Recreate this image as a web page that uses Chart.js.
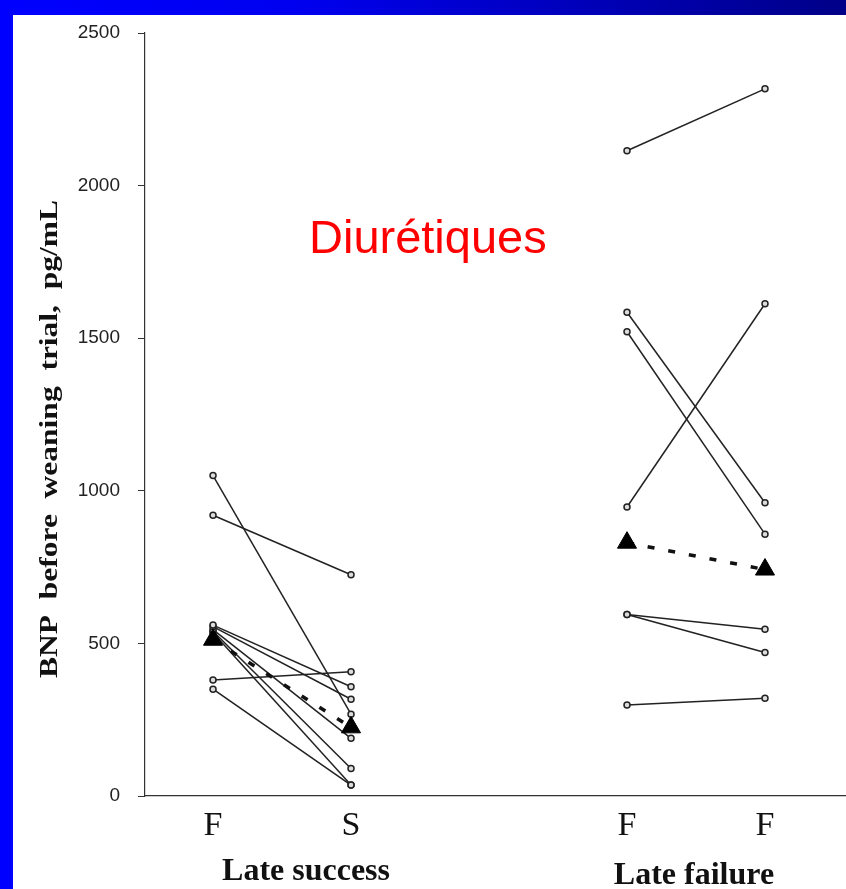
<!DOCTYPE html>
<html>
<head>
<meta charset="utf-8">
<script src="https://cdn.jsdelivr.net/npm/chart.js@4/dist/chart.umd.min.js"></script>
<style>
html,body{margin:0;padding:0;overflow:hidden;background:#0000ff;}
#wrap{position:relative;width:846px;height:889px;}
</style>
</head>
<body>
<div id="wrap"><canvas id="c" width="846" height="889"></canvas></div>
<script>
// ---- data ----
const groupLabels = ['Late success', 'Late failure'];
const timeLabels = ['F', 'S', 'F', 'F'];
const timePositions = [1, 2, 4, 5];
const yTicks = [0, 500, 1000, 1500, 2000, 2500];

const successBefore = [1050, 920, 380, 350, 560, 555, 545, 540, 535];
const successAfter  = [268, 725, 407, 36, 358, 317, 189, 90, 36];
const failureBefore = [2114, 1585, 1521, 947, 595, 595, 298];
const failureAfter  = [2317, 961, 858, 1613, 546, 470, 320];
const successMean = [512, 225];
const failureMean = [830, 742];

const yTitle = 'BNP  before  weaning  trial,  pg/mL';
const annotation = 'Diurétiques';

// ---- datasets ----
const datasets = [];
function meanSet(vals, x0, x1) {
  return {
    data: [{x: x0, y: vals[0]}, {x: x1, y: vals[1]}],
    borderColor: '#111', borderWidth: 3.5, borderDash: [7, 14],
    pointStyle: 'triangle', pointRadius: 11, pointBackgroundColor: '#000',
    pointBorderColor: '#000', pointBorderWidth: 1
  };
}
datasets.push(meanSet(successMean, timePositions[0], timePositions[1]));
datasets.push(meanSet(failureMean, timePositions[2], timePositions[3]));
function pairSet(a, b, x0, x1) {
  return {
    data: [{x: x0, y: a}, {x: x1, y: b}],
    borderColor: '#222', borderWidth: 1.5,
    pointStyle: 'circle', pointRadius: 3, pointBackgroundColor: '#ddd',
    pointBorderColor: '#222', pointBorderWidth: 1.5
  };
}
successBefore.forEach((v, i) => datasets.push(pairSet(v, successAfter[i], timePositions[0], timePositions[1])));
failureBefore.forEach((v, i) => datasets.push(pairSet(v, failureAfter[i], timePositions[2], timePositions[3])));

// ---- plugins ----
const bgPlugin = {
  id: 'bg',
  beforeDraw(chart) {
    const ctx = chart.ctx, w = chart.width, h = chart.height;
    ctx.save();
    const g = ctx.createLinearGradient(0, 0, w, 0);
    g.addColorStop(0, '#0000ff');
    g.addColorStop(0.35, '#0000f0');
    g.addColorStop(1, '#000088');
    ctx.fillStyle = g;
    ctx.fillRect(0, 0, w, 16);
    ctx.fillStyle = '#0000ff';
    ctx.fillRect(0, 0, 13, h);
    ctx.fillStyle = '#ffffff';
    ctx.fillRect(13, 15, w - 13, h - 15);
    ctx.restore();
  }
};
const textPlugin = {
  id: 'texts',
  afterDraw(chart) {
    const ctx = chart.ctx;
    const xs = chart.scales.x;
    ctx.save();
    ctx.font = 'bold 26px "Liberation Serif", "Times New Roman", serif';
    ctx.fillStyle = '#111';
    const tw = ctx.measureText(yTitle).width;
    const len = 478;
    ctx.translate(57, 439);
    ctx.rotate(-Math.PI / 2);
    ctx.scale(len / tw, 1);
    ctx.textAlign = 'center';
    ctx.textBaseline = 'alphabetic';
    ctx.fillText(yTitle, 0, 0);
    ctx.restore();

    ctx.save();
    ctx.font = 'bold 32px "Liberation Serif", "Times New Roman", serif';
    ctx.fillStyle = '#111';
    ctx.textAlign = 'center';
    ctx.textBaseline = 'alphabetic';
    const c1 = (xs.getPixelForValue(timePositions[0]) + xs.getPixelForValue(timePositions[1])) / 2;
    const c2 = (xs.getPixelForValue(timePositions[2]) + xs.getPixelForValue(timePositions[3])) / 2;
    ctx.fillText(groupLabels[0], c1 + 24, 880);
    ctx.fillText(groupLabels[1], c2 - 2, 884);

    ctx.font = '47px "Liberation Sans", Arial, sans-serif';
    ctx.fillStyle = '#ff0000';
    ctx.textAlign = 'left';
    ctx.fillText(annotation, 309, 253);
    ctx.restore();
  }
};

new Chart(document.getElementById('c'), {
  type: 'line',
  data: { datasets },
  options: {
    responsive: false,
    animation: false,
    events: [],
    layout: { autoPadding: false, padding: { top: 33, left: 0, right: 0, bottom: 0 } },
    plugins: { legend: { display: false }, tooltip: { enabled: false } },
    scales: {
      x: {
        type: 'linear',
        min: 0.507, max: 5.587,
        afterBuildTicks(s) { s.ticks = timePositions.map(v => ({ value: v })); },
        afterFit(s) { s.height = 93; },
        ticks: {
          autoSkip: false, maxRotation: 0, padding: 10,
          color: '#111',
          font: { family: '"Liberation Serif", "Times New Roman", serif', size: 34 },
          callback(v) { const i = timePositions.indexOf(v); return i >= 0 ? timeLabels[i] : ''; }
        },
        grid: { drawOnChartArea: false, drawTicks: false, display: true },
        border: { display: true, color: '#333', width: 1.2 }
      },
      y: {
        type: 'linear',
        min: 0, max: 2500,
        afterBuildTicks(s) { s.ticks = yTicks.map(v => ({ value: v })); },
        afterFit(s) { s.width = 145; },
        ticks: {
          padding: 18, color: '#222',
          font: { family: '"Liberation Sans", Arial, sans-serif', size: 19 },
          callback(v) { return String(v); }
        },
        grid: { drawOnChartArea: false, tickLength: 7, color: '#333' },
        border: { display: true, color: '#333', width: 1.2 }
      }
    }
  },
  plugins: [bgPlugin, textPlugin]
});
</script>
</body>
</html>
